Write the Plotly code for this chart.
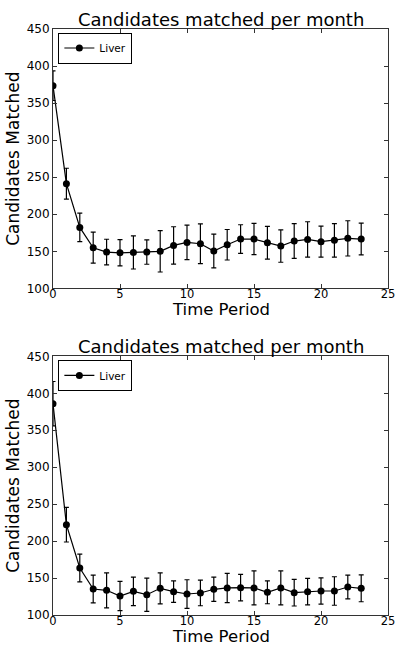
import plotly.graph_objects as go

periods = list(range(24))

top_values = [373.5, 241.3, 182.3, 154.9, 149.0, 148.0, 148.6, 149.0, 150.0, 158.0,
              162.1, 160.3, 150.4, 158.9, 166.6, 166.6, 161.6, 157.1, 163.9, 166.1,
              163.0, 164.8, 167.5, 166.6]
top_errors = [20.0, 20.8, 19.2, 20.9, 17.3, 17.7, 22.4, 16.4, 27.9, 25.2,
              23.4, 26.8, 22.7, 20.6, 19.3, 21.1, 22.2, 21.8, 23.4, 23.8,
              20.9, 22.5, 23.8, 21.5]

bottom_values = [386.0, 222.2, 163.6, 135.2, 133.4, 125.7, 132.0, 127.5, 136.1, 131.6,
                 128.4, 129.8, 134.8, 136.6, 137.0, 136.6, 130.7, 136.6, 130.2, 131.6,
                 132.5, 132.5, 137.9, 136.1]
bottom_errors = [30.0, 23.4, 18.7, 18.7, 23.7, 19.8, 19.2, 22.5, 21.0, 14.6,
                 19.3, 17.3, 16.4, 19.8, 18.0, 23.0, 15.5, 23.0, 18.0, 18.0,
                 17.8, 19.3, 16.2, 18.2]

x_ticks = [0, 5, 10, 15, 20, 25]
y_ticks = [100, 150, 200, 250, 300, 350, 400, 450]

title_text = "Candidates matched per month"
series_name = "Liver"
x_title = "Time Period"
y_title = "Candidates Matched"

FONT = "DejaVu Sans"
W, H = 398, 647
ml, mr, mt, mb = 52.5, 10.3, 29.3, 31.7
plot_h = H - mt - mb
top_dom = [(615.3 - 288.7) / plot_h, 1.0]
bot_dom = [0.0, (615.3 - 356.7) / plot_h]

fig = go.Figure()


def add_series(values, errors, xa, ya, legend):
    fig.add_trace(go.Scatter(
        x=periods, y=values, mode="lines+markers", name=series_name,
        xaxis=xa, yaxis=ya, legend=legend,
        line=dict(color="black", width=1.2),
        marker=dict(color="black", size=7, symbol="circle"),
        error_y=dict(type="data", array=errors, visible=True,
                     color="black", thickness=1.2, width=2.5),
        cliponaxis=True,
    ))


add_series(top_values, top_errors, "x", "y", "legend")
add_series(bottom_values, bottom_errors, "x2", "y2", "legend2")

axis_common = dict(
    showline=True, linecolor="#333", linewidth=1, mirror="ticks",
    ticks="inside", ticklen=4, tickcolor="#333", tickwidth=1,
    showgrid=False, zeroline=False, automargin=False,
    tickfont=dict(family=FONT, size=12, color="black"),
)

xa = dict(axis_common, range=[0, 25], tickvals=x_ticks, ticklabelstandoff=-5,
          tickfont=dict(family=FONT, size=11.5, color="black"))
ya = dict(axis_common, range=[100, 450], tickvals=y_ticks,
          title=dict(text=y_title, font=dict(family=FONT, size=17, color="black"), standoff=2),
          ticklabelstandoff=0)

leg_common = dict(xanchor="left", yanchor="top",
                  bordercolor="black", borderwidth=1, bgcolor="white",
                  font=dict(family=FONT, size=10.5, color="black"),
                  itemwidth=30, tracegroupgap=0)


def title_ann(y):
    return dict(text=title_text, x=0.5, y=y, xref="paper", yref="paper",
                xanchor="center", yanchor="bottom", showarrow=False, yshift=-3,
                font=dict(family=FONT, size=18, color="black"))


def xtitle_ann(y):
    return dict(text=x_title, x=0.5, y=y - mb / plot_h, xref="paper", yref="paper",
                xanchor="center", yanchor="bottom", showarrow=False, yshift=0,
                borderpad=0, font=dict(family=FONT, size=16.5, color="black"))


fig.update_layout(
    width=W, height=H,
    margin=dict(l=ml, r=mr, t=mt, b=mb, pad=0),
    paper_bgcolor="white", plot_bgcolor="white",
    xaxis=dict(xa, domain=[0, 1], anchor="y"),
    yaxis=dict(ya, domain=top_dom, anchor="x"),
    xaxis2=dict(xa, domain=[0, 1], anchor="y2"),
    yaxis2=dict(ya, domain=bot_dom, anchor="x2"),
    legend=dict(leg_common, x=0.016, y=top_dom[1] - 0.006),
    legend2=dict(leg_common, x=0.016, y=bot_dom[1] - 0.006),
    showlegend=True,
    annotations=[
        title_ann(top_dom[1]), title_ann(bot_dom[1]),
        xtitle_ann(top_dom[0]), xtitle_ann(bot_dom[0]),
    ],
)

fig.write_html("out.html")
